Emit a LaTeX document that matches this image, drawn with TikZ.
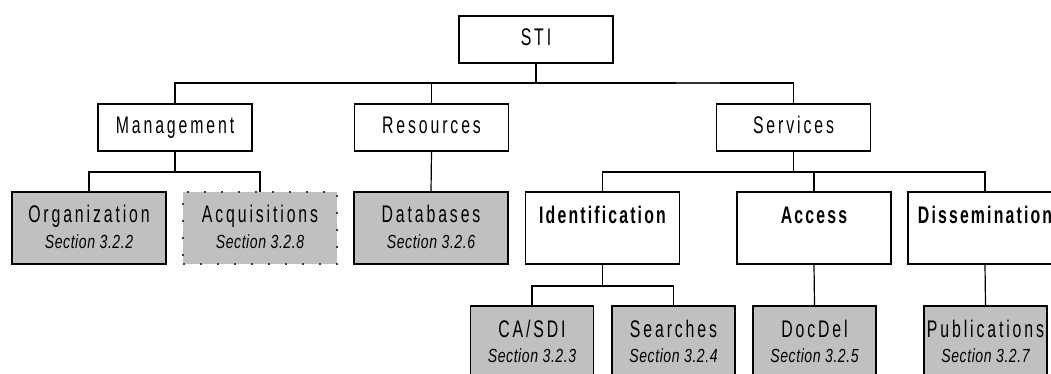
\documentclass[tikz,border=0pt]{standalone}
\usepackage{fontspec}
\setmainfont{Liberation Sans}
\newfontfamily\labfont{Liberation Sans}[FakeStretch=0.66,LetterSpace=12]
\newfontfamily\boldfont{Liberation Sans}[FakeStretch=0.66,LetterSpace=9]
\newfontfamily\secfont{Liberation Sans}[FakeStretch=0.74,LetterSpace=3]
\definecolor{boxgray}{RGB}{192,192,192}
\usetikzlibrary{calc}
\begin{document}
\begin{tikzpicture}[x=1pt,y=-1pt, line width=1.2pt,
  wbox/.style={draw, fill=white, line width=1.3pt, minimum width=154pt, minimum height=47pt, inner sep=0pt, outer sep=0pt},
  gbox/.style={draw, fill=boxgray, line width=1.3pt, minimum width=154pt, minimum height=72pt, inner sep=0pt, outer sep=0pt},
  tbox/.style={draw, fill=white, line width=1.3pt, minimum width=154pt, minimum height=72pt, inner sep=0pt, outer sep=0pt},
  sbox/.style={gbox, minimum width=123pt},
  dbox/.style={fill=boxgray, draw=black!75, line width=1.2pt, dash pattern=on 2pt off 15pt, minimum width=154pt, minimum height=72pt, inner sep=0pt, outer sep=0pt},
  lab/.style={anchor=base, inner sep=0pt, font=\labfont\fontsize{24}{28}\selectfont},
  blab/.style={anchor=base, inner sep=0pt, font=\boldfont\bfseries\fontsize{24}{28}\selectfont},
  sec/.style={anchor=base, inner sep=0pt, font=\secfont\itshape\fontsize{19}{22}\selectfont}
]
\path[use as bounding box] (0,0) rectangle (1051,374);
\clip (0,0) rectangle (1051,374);

% level 0
\node[wbox] (sti) at (536,39.5) {};
\node[lab] (stiT) at ([yshift=-6.5pt]sti.center) {STI};

% level 1
\node[wbox] (mgmt) at (175,127.5) {};
\node[lab] (mgmtT) at ([yshift=-6.5pt]mgmt.center) {Management};
\node[wbox] (res) at (431.5,127.5) {};
\node[lab] (resT) at ([yshift=-6.5pt]res.center) {Resources};
\node[wbox] (svc) at (793.5,127.5) {};
\node[lab] (svcT) at ([yshift=-6.5pt]svc.center) {Services};

% level 2
\node[gbox] (org) at (89,228) {};
\node[lab] (orgT) at ([yshift=-30pt]org.north) {Organization};
\node[sec] (orgS) at ([yshift=-56pt]org.north) {Section 3.2.2};

\node[dbox] (acq) at (260,228) {};
\node[lab] (acqT) at ([yshift=-30pt]acq.north) {Acquisitions};
\node[sec] (acqS) at ([yshift=-56pt]acq.north) {Section 3.2.8};

\node[gbox] (db) at (431,228) {};
\node[lab] (dbT) at ([yshift=-30pt]db.north) {Databases};
\node[sec] (dbS) at ([yshift=-56pt]db.north) {Section 3.2.6};

\node[tbox] (ident) at (602.5,228) {};
\node[blab] (identT) at ([yshift=-31pt]ident.north) {Identification};
\node[tbox] (acc) at (814,228) {};
\node[blab] (accT) at ([yshift=-31pt]acc.north) {Access};
\node[tbox] (dis) at (985,228) {};
\node[blab] (disT) at ([yshift=-31pt]dis.north) {Dissemination};

% level 3
\node[sbox] (ca) at (532,342) {};
\node[lab] (caT) at ([yshift=-31pt]ca.north) {CA/SDI};
\node[sec] (caS) at ([yshift=-56pt]ca.north) {Section 3.2.3};

\node[sbox] (sea) at (673.5,342) {};
\node[lab] (seaT) at ([yshift=-31pt]sea.north) {Searches};
\node[sec] (seaS) at ([yshift=-56pt]sea.north) {Section 3.2.4};

\node[sbox] (doc) at (814.5,342) {};
\node[lab] (docT) at ([yshift=-31pt]doc.north) {DocDel};
\node[sec] (docS) at ([yshift=-56pt]doc.north) {Section 3.2.5};

\node[sbox] (pub) at (985.5,342) {};
\node[lab] (pubT) at ([yshift=-31pt]pub.north) {Publications};
\node[sec] (pubS) at ([yshift=-56pt]pub.north) {Section 3.2.7};

% bus coordinates
\coordinate (b1) at (536,83);
\coordinate (b2m) at (175,172);
\coordinate (b2s) at (793.5,172);
\coordinate (b3) at (602.5,286);
\coordinate (thk1) at (676,83);
\coordinate (thk2) at (720,83);

% connectors
\draw (sti.south) -- (b1);
\draw (mgmt.north) |- (b1) -| (svc.north);
\draw (res.north) -- (res.north |- b1);
\draw[line width=2.2pt, black!80] (thk1) -- (thk2);

\draw (mgmt.south) -- (b2m);
\draw (org.north) |- (b2m) -| (acq.north);
\draw (res.south) -- (db.north);

\draw (svc.south) -- (b2s);
\draw (ident.north) |- (b2s) -| (dis.north);
\draw (acc.north) -- (acc.north |- b2s);

\draw (ident.south) -- (b3);
\draw (ca.north) |- (b3) -| (sea.north);
\draw (acc.south) -- (doc.north);
\draw (dis.south) -- (pub.north);
\end{tikzpicture}
\end{document}
